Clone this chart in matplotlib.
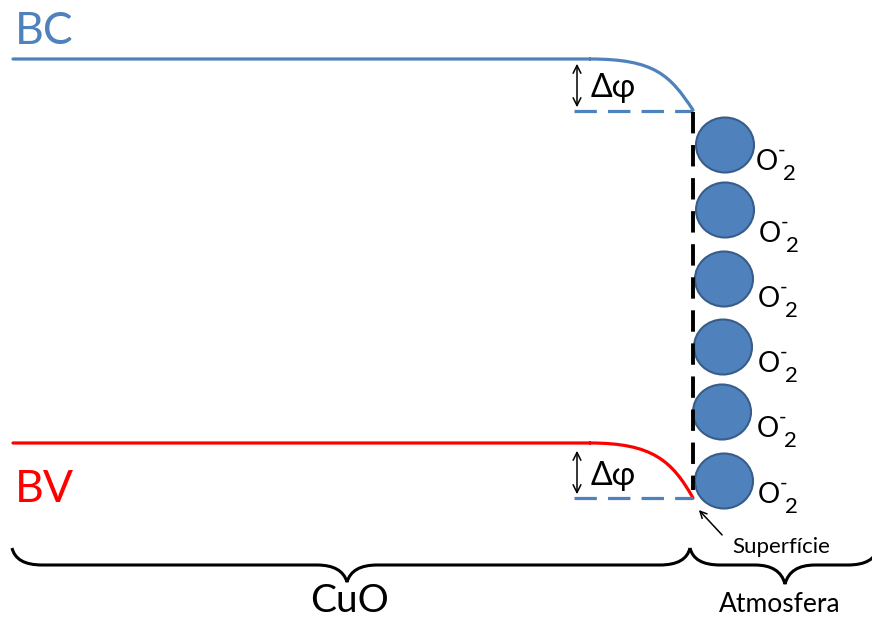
import numpy as np
import matplotlib.pyplot as plt
from matplotlib.path import Path
from matplotlib.patches import PathPatch, Ellipse

plt.rcParams['font.family'] = ['Lato', 'DejaVu Sans']

# band levels (pixel coords, y down)
bc_level, bc_surface = 59, 110
bv_level, bv_surface = 443, 498
x_left, x_bend, x_surf = 13, 590, 693
x_dash_start = 574

# adsorbed O2- molecules
mol_y = [145, 210, 279, 347, 412, 481]
mol_x = [725, 725, 724, 723, 722, 724]
lab_x = [756, 759, 758, 758, 757, 758]
lab_y = [170, 242, 307, 372, 437, 503]

blue = '#4F81BD'
dark_blue = '#385D8A'
red = '#FF0000'

fig = plt.figure(figsize=(8.72, 6.19), dpi=100)
ax = fig.add_axes([0, 0, 1, 1])
ax.set_xlim(0, 872)
ax.set_ylim(619, 0)
ax.axis('off')


def band(y0, y1, color, c1, c2):
    # flat part then bend toward the surface
    verts = [(x_left, y0), (x_bend, y0),
             (x_bend, y0), (x_bend + c1, y0), (x_bend + c2, y0 + (y1 - y0) * 0.32), (x_surf, y1)]
    codes = [Path.MOVETO, Path.LINETO, Path.MOVETO, Path.CURVE4, Path.CURVE4, Path.CURVE4]
    ax.add_patch(PathPatch(Path(verts, codes), fill=False, ec=color, lw=2.3, capstyle='round'))


band(bc_level, bc_surface, blue, 65, 80)
band(bv_level, bv_surface, red, 62, 82)

# dashed reference lines
ax.plot([x_dash_start, x_surf], [bc_surface + 1, bc_surface + 1], color=blue, lw=2.3, dashes=(7, 3.5))
ax.plot([x_dash_start, x_surf], [bv_surface, bv_surface], color=blue, lw=2.3, dashes=(7, 3.5))

# surface
ax.plot([x_surf, x_surf], [bc_surface + 2, 490], color='black', lw=2.8, dashes=(5.5, 3))

# delta phi arrows
for ya, yb, yt in [(bc_level + 2, bc_surface, 88), (bv_level + 5, bv_surface - 1, 476)]:
    ax.annotate('', xy=(577, ya), xytext=(577, yb),
                arrowprops=dict(arrowstyle='<->', color='black', lw=1.1, mutation_scale=14))
    ax.text(591, yt, 'Δφ', fontsize=23, ha='left', va='center')

# molecules
for cx, cy, lx, ly in zip(mol_x, mol_y, lab_x, lab_y):
    ax.add_patch(Ellipse((cx, cy), 58, 55, fc=blue, ec=dark_blue, lw=1.5))
    ax.text(lx, ly, 'O', fontsize=20, ha='left', va='baseline')
    ax.text(lx + 22, ly - 13, '-', fontsize=15, ha='left', va='baseline')
    ax.text(lx + 27, ly + 10, '2', fontsize=16, ha='left', va='baseline')

ax.text(15, 32, 'BC', fontsize=32, color=blue, ha='left', va='center')
ax.text(15, 490, 'BV', fontsize=32, color=red, ha='left', va='center')

# surface label
ax.annotate('', xy=(697, 508), xytext=(724, 537),
            arrowprops=dict(arrowstyle='->', color='black', lw=1.1, mutation_scale=12))
ax.text(732, 547, 'Superfície', fontsize=16, ha='left', va='center')


def brace(x0, x1, xt, ytop, ymid, ytip):
    r = 30
    verts = [(x0, ytop), (x0 + 4, ymid), (x0 + r, ymid),
             (xt - r, ymid),
             (xt - 5, ymid), (xt, ytip),
             (xt + 5, ymid), (xt + r, ymid),
             (x1 - r, ymid),
             (x1 - 4, ymid), (x1, ytop)]
    codes = [Path.MOVETO, Path.CURVE3, Path.CURVE3, Path.LINETO,
             Path.CURVE3, Path.CURVE3, Path.CURVE3, Path.CURVE3,
             Path.LINETO, Path.CURVE3, Path.CURVE3]
    ax.add_patch(PathPatch(Path(verts, codes), fill=False, ec='black', lw=2.2))


brace(12, 690, 347, 548, 565, 582)
brace(690, 878, 785, 548, 565, 584)

ax.text(350, 601, 'CuO', fontsize=28, ha='center', va='center')
ax.text(780, 605, 'Atmosfera', fontsize=19, ha='center', va='center')

fig.savefig('out.png', dpi=100)
